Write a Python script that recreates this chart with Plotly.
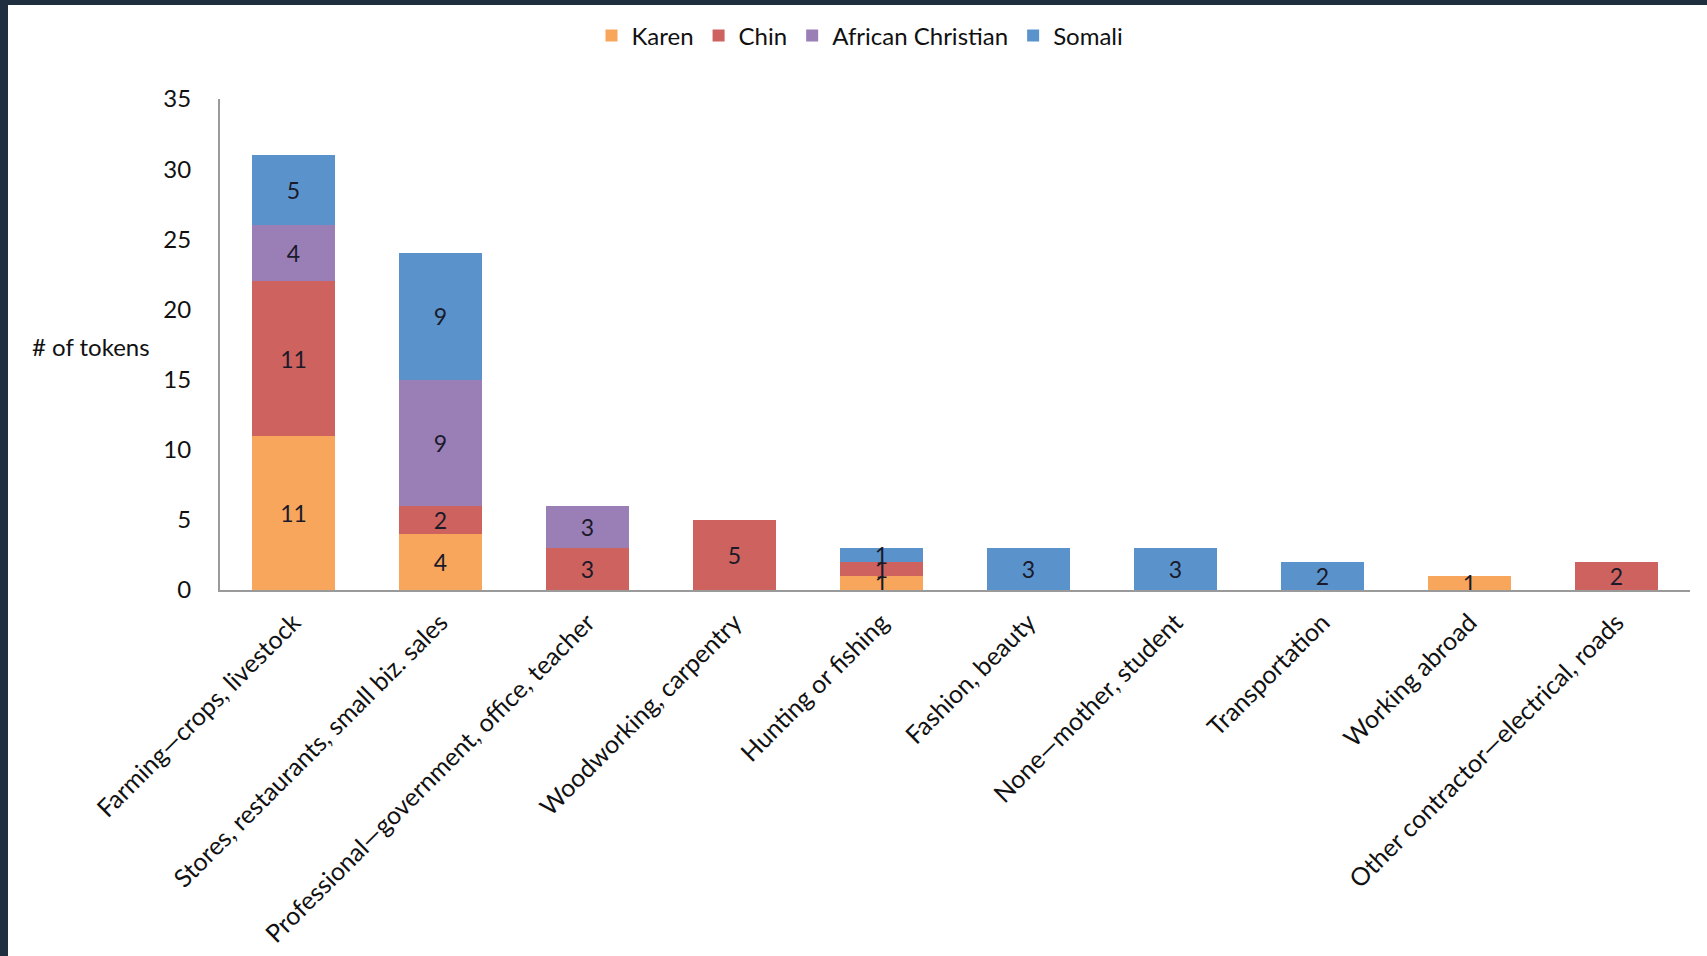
import plotly.graph_objects as go

categories = [
    "Farming—crops, livestock",
    "Stores, restaurants, small biz. sales",
    "Professional—government, office, teacher",
    "Woodworking, carpentry",
    "Hunting or fishing",
    "Fashion, beauty",
    "None—mother, student",
    "Transportation",
    "Working abroad",
    "Other contractor—electrical, roads",
]
karen = [11, 4, None, None, 1, None, None, None, 1, None]
chin = [11, 2, 3, 5, 1, None, None, None, None, 2]
african = [4, 9, 3, None, None, None, None, None, None, None]
somali = [5, 9, None, None, 1, 3, 3, 2, None, None]

series = [
    ("Karen", karen, "#F8A65B"),
    ("Chin", chin, "#CD625E"),
    ("African Christian", african, "#9A7FB7"),
    ("Somali", somali, "#5A93CB"),
]

FONT = "Lato"
fig = go.Figure()
for name, vals, color in series:
    fig.add_trace(go.Bar(
        x=categories, y=vals, name=name,
        marker=dict(color=color, line=dict(width=0)),
        text=[str(v) if v is not None else "" for v in vals],
        textposition="inside", insidetextanchor="middle",
        constraintext="none", textangle=0,
        textfont=dict(family=FONT, size=23, color="#1a1a2a"),
    ))

# page body margin set to 5px top / 8px left: figure origin at screen (8, 5)
OFFX, OFFY = 8, 5
W, H = 1707 - OFFX, 956 - OFFY
L, R, T = 220 - OFFX, 17, 99 - OFFY
B = H - (590 - OFFY)
pw, ph = W - L - R, H - T - B

def px_x(p):  # screen px -> paper
    return (p - OFFX - L) / pw

def px_y(p):
    return (H - B - (p - OFFY)) / ph

fig.update_layout(
    barmode="stack",
    bargap=0.43,
    width=W, height=H,
    margin=dict(l=L, r=R, t=T, b=B, autoexpand=False),
    paper_bgcolor="white", plot_bgcolor="white",
    font=dict(family=FONT, color="#111111"),
    uniformtext=dict(minsize=23, mode="show"),
    legend=dict(
        orientation="h", x=px_x(860), xanchor="center",
        yref="container", y=1 - (36 - OFFY) / H, yanchor="middle",
        font=dict(family=FONT, size=24, color="#111111"),
        itemwidth=30, traceorder="normal",
    ),
    xaxis=dict(
        tickangle=-45, tickfont=dict(family=FONT, size=25, color="#111111"),
        showline=True, linecolor="#9a9a9a", linewidth=2,
        showgrid=False, ticks="", ticklabelstandoff=6, automargin=False,
    ),
    yaxis=dict(
        range=[0, 35], dtick=5, tickfont=dict(family=FONT, size=24, color="#111111"),
        showline=True, linecolor="#9a9a9a", linewidth=2,
        showgrid=False, ticks="", zeroline=False, ticklabelstandoff=22,
        automargin=False,
    ),
    annotations=[dict(
        text="# of tokens", xref="paper", yref="paper",
        x=px_x(152), y=px_y(346), xanchor="right", yanchor="middle",
        showarrow=False, font=dict(family=FONT, size=24, color="#111111"),
    )],
)

fig.write_html(
    "out.html",
    post_script=(
        "document.documentElement.style.overflow='hidden';"
        "document.body.style.overflow='hidden';"
        "document.body.style.margin='5px 0 0 8px';"
        "document.body.style.backgroundColor='#1f2f40';"
    ),
)
